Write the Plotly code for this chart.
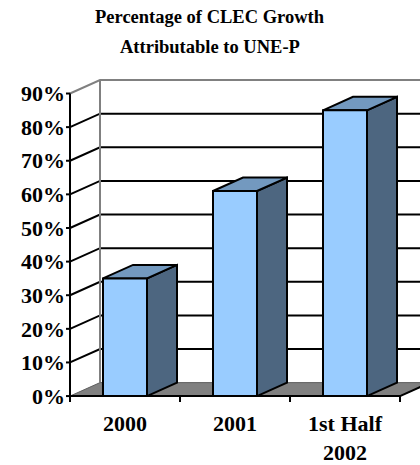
import plotly.graph_objects as go

categories = ["2000", "2001", "1st Half<br>2002"]
values = [35, 61, 85]          # percent
y_ticks = [0, 10, 20, 30, 40, 50, 60, 70, 80, 90]
y_tick_labels = [f"{v}%" for v in y_ticks]
title_lines = ["Percentage of CLEC Growth", "Attributable to UNE-P"]

FRONT = "#99CCFF"
TOP = "#7399BF"
SIDE = "#4D6680"
GRID = "black"
EDGE = "#808080"
FONT = "Liberation Serif, Times New Roman, serif"

# 3D projection parameters (depth offset in data units)
DX = 30 / 110.0
DZ = 4.0
BW = 0.4
x_left = -0.5
x_right = len(categories) - 0.5
ymax = y_ticks[-1]

L, T, B = 66, 75, 55
W, H = 420, 465
PXX = 110.0
PXY = 3.382

fig = go.Figure()

# left & back wall gridlines
gx, gy = [], []
for v in y_ticks[1:-1]:
    gx += [x_left, x_left + DX, x_right + DX, None]
    gy += [v, v + DZ, v + DZ, None]
fig.add_trace(go.Scatter(x=gx, y=gy, mode="lines", line=dict(color=GRID, width=2),
                         hoverinfo="skip"))
# wall edges (gray)
ex = [x_left, x_left + DX, x_right + DX, None, x_left + DX, x_left + DX]
ey = [ymax, ymax + DZ, ymax + DZ, None, DZ, ymax + DZ]
fig.add_trace(go.Scatter(x=ex, y=ey, mode="lines", line=dict(color=EDGE, width=2),
                         hoverinfo="skip"))
# floor
fig.add_trace(go.Scatter(x=[x_left, x_right, x_right + DX, x_left + DX, x_left],
                         y=[0, 0, DZ, DZ, 0], mode="lines", fill="toself",
                         fillcolor=EDGE, line=dict(color="#606060", width=1),
                         hoverinfo="skip"))
fig.add_trace(go.Scatter(x=[x_right, x_right + DX], y=[0, DZ], mode="lines",
                         line=dict(color="black", width=2), hoverinfo="skip"))

# bars
for i, v in enumerate(values):
    l, r = i - BW / 2, i + BW / 2
    # side face
    fig.add_trace(go.Scatter(x=[r, r + DX, r + DX, r, r], y=[0, DZ, v + DZ, v, 0],
                             mode="lines", fill="toself", fillcolor=SIDE,
                             line=dict(color="black", width=2), hoverinfo="skip"))
    # top face
    fig.add_trace(go.Scatter(x=[l, l + DX, r + DX, r, l], y=[v, v + DZ, v + DZ, v, v],
                             mode="lines", fill="toself", fillcolor=TOP,
                             line=dict(color="black", width=2), hoverinfo="skip"))
    # front face
    fig.add_trace(go.Scatter(x=[l, r, r, l, l], y=[0, 0, v, v, 0],
                             mode="lines", fill="toself", fillcolor=FRONT,
                             line=dict(color="black", width=2), hoverinfo="skip"))

# front axes, ticks
ax_x = [x_left, x_left, None, x_left, x_right]
ax_y = [ymax, 0, None, 0, 0]
tick_len_x = (70 - L) / PXX
for v in y_ticks:
    ax_x += [None, x_left - tick_len_x, x_left]
    ax_y += [None, v, v]
for b in range(len(categories) + 1):
    ax_x += [None, b - 0.5, b - 0.5]
    ax_y += [None, 0, -1.8]
fig.add_trace(go.Scatter(x=ax_x, y=ax_y, mode="lines", line=dict(color="black", width=2),
                         hoverinfo="skip"))

fig.update_layout(
    width=W, height=H, margin=dict(l=L, r=0, t=T, b=B),
    paper_bgcolor="white", plot_bgcolor="white", showlegend=False,
    font=dict(family=FONT, color="black"),
    xaxis=dict(range=[x_left - (70 - L) / PXX, x_left + (W - 70) / PXX], showgrid=False,
               zeroline=False, showline=False, tickvals=list(range(len(categories))),
               ticktext=categories, ticks="",
               tickfont=dict(family=FONT, size=22, weight="bold", color="black")),
    yaxis=dict(range=[-(H - B - 398) / PXY, (398 - T) / PXY], showgrid=False,
               zeroline=False, showline=False, tickvals=y_ticks, ticktext=y_tick_labels,
               ticks="",
               tickfont=dict(family=FONT, size=22, weight="bold", color="black")),
)
plot_h = H - T - B
plot_w = W - L
for txt, ypx in zip(title_lines, [17, 47]):
    fig.add_annotation(text=txt, xref="paper", yref="paper",
                       x=(210 - L) / plot_w, y=(H - B - ypx) / plot_h,
                       xanchor="center", yanchor="middle", showarrow=False,
                       font=dict(family=FONT, size=18.5, weight="bold", color="black"))

fig.write_html("out.html")
